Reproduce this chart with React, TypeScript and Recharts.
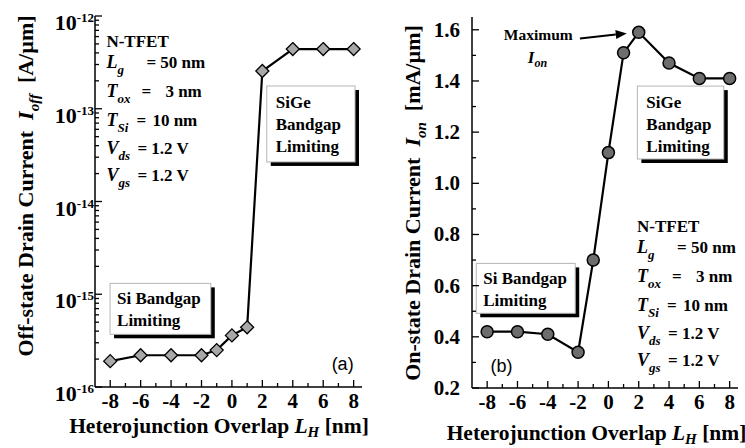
import React from 'react';
import { LineChart, Line, XAxis, YAxis, ReferenceArea, ReferenceDot, ReferenceLine } from 'recharts';

// heterojunction overlap L_H [nm]
const overlapNm = [-8, -6, -4, -2, -1, 0, 1, 2, 4, 6, 8];
// panel (a) off-state current [A/um]
const offCurrent = [1.9e-16, 2.2e-16, 2.2e-16, 2.2e-16, 2.5e-16, 3.6e-16, 4.4e-16, 2.55e-13, 4.4e-13, 4.4e-13, 4.4e-13];
// panel (b) on-state current [mA/um]
const onCurrent = [0.42, 0.42, 0.41, 0.34, 0.7, 1.12, 1.51, 1.59, 1.47, 1.41, 1.41];

const xTicks = [-8, -7, -6, -5, -4, -3, -2, -1, 0, 1, 2, 3, 4, 5, 6, 7, 8];
const xLabelled = [-8, -6, -4, -2, 0, 2, 4, 6, 8];
const offDecades = [1e-16, 1e-15, 1e-14, 1e-13, 1e-12];
const minorMantissa = [2, 3, 4, 5, 6, 7, 8, 9];
const onTicks = [0.2, 0.3, 0.4, 0.5, 0.6, 0.7, 0.8, 0.9, 1.0, 1.1, 1.2, 1.3, 1.4, 1.5, 1.6];
const onLabelled = [0.2, 0.4, 0.6, 0.8, 1.0, 1.2, 1.4, 1.6];

const offTicks = offDecades.flatMap((d, i) =>
  i < offDecades.length - 1 ? [d, ...minorMantissa.map((m) => m * d)] : [d]
);

const offData = overlapNm.map((x, i) => ({ x, y: offCurrent[i] }));
const onData = overlapNm.map((x, i) => ({ x, y: onCurrent[i] }));

const SERIF = "'Liberation Serif', 'Times New Roman', 'DejaVu Serif', serif";
const SANS = "'Liberation Sans', Arial, sans-serif";
const X_DOMAIN = [-9, 8.55];

const isXMajor = (v: number) => xLabelled.includes(v);
const isLogMajor = (v: number) => offDecades.some((d) => Math.abs(v / d - 1) < 1e-6);
const isOnMajor = (v: number) => onLabelled.some((l) => Math.abs(l - v) < 1e-6);

type Side = 'bottom' | 'top' | 'left' | 'right';

const tickFactory =
  (side: Side, isMajor: (v: number) => boolean, label?: (x: number, y: number, v: number) => React.ReactNode) =>
  (p: any) => {
    const v = p.payload.value;
    const len = isMajor(v) ? 7 : 4;
    const { x, y } = p;
    let x2 = x;
    let y2 = y;
    if (side === 'bottom') y2 = y - len;
    if (side === 'top') y2 = y + len;
    if (side === 'left') x2 = x + len;
    if (side === 'right') x2 = x - len;
    return (
      <g>
        <line x1={x} y1={y} x2={x2} y2={y2} stroke="#000" strokeWidth={1.3} />
        {label && isMajor(v) ? label(x, y, v) : null}
      </g>
    );
  };

const bottomLabel = (x: number, y: number, v: number) => (
  <text x={x} y={y + 21} textAnchor="middle" style={{ fontFamily: SERIF }} fontWeight="bold" fontSize={21} fill="#000">
    {v}
  </text>
);

const logLabel = (x: number, y: number, v: number) => (
  <text x={x - 1} y={y + 14} textAnchor="end" style={{ fontFamily: SERIF }} fontWeight="bold" fontSize={22} fill="#000">
    10
    <tspan dy={-8} fontSize={13}>
      {Math.round(Math.log10(v))}
    </tspan>
  </text>
);

const onLabel = (x: number, y: number, v: number) => (
  <text x={x - 12} y={y + 7} textAnchor="end" style={{ fontFamily: SERIF }} fontWeight="bold" fontSize={21} fill="#000">
    {v.toFixed(1)}
  </text>
);

const yTitle = (main: string, sub: string, unit: string, dx: number, dy: number) => (props: any) => {
  const vb = props.viewBox;
  const cx = vb.x + dx;
  const cy = vb.y + vb.height / 2 + dy;
  return (
    <text
      transform={`translate(${cx},${cy}) rotate(-90)`}
      textAnchor="middle"
      style={{ fontFamily: SERIF }}
      fontWeight="bold"
      fontSize={22}
      fill="#000"
    >
      {main + '\u00a0\u00a0'}
      <tspan fontStyle="italic">I</tspan>
      <tspan fontStyle="italic" fontSize={15} dy={6}>
        {sub}
      </tspan>
      <tspan dy={-6}>{'\u00a0\u00a0' + unit}</tspan>
    </text>
  );
};

const xTitle = (dx: number, dy: number) => (props: any) => {
  const vb = props.viewBox;
  return (
    <text
      x={vb.x + vb.width / 2 + dx}
      y={vb.y + dy}
      textAnchor="middle"
      style={{ fontFamily: SERIF }}
      fontWeight="bold"
      fontSize={21.5}
      fill="#000"
    >
      {'Heterojunction Overlap '}
      <tspan fontStyle="italic">L</tspan>
      <tspan fontStyle="italic" fontSize={15} dy={4}>
        H
      </tspan>
      <tspan dy={-4}>{'\u00a0[nm]'}</tspan>
    </text>
  );
};

const noteBox = (lines: string[], dx: number, baselines: number[]) => (p: any) => (
  <g>
    <rect x={p.x + 4} y={p.y + 4} width={p.width} height={p.height} fill="#000" />
    <rect x={p.x} y={p.y} width={p.width} height={p.height} fill="#fff" stroke="#b5b5b5" strokeWidth={1} />
    {lines.map((t, i) => (
      <text
        key={i}
        x={p.x + dx}
        y={p.y + baselines[i]}
        style={{ fontFamily: SERIF }}
        fontWeight="bold"
        fontSize={17}
        fill="#000"
      >
        {t}
      </text>
    ))}
  </g>
);

const paramRows = [
  { sym: 'L', sub: 'g', parts: [['= 50 nm', 40]] },
  { sym: 'T', sub: 'ox', parts: [['=', 35], ['3 nm', 59]] },
  { sym: 'T', sub: 'Si', parts: [['=', 30], ['10 nm', 46]] },
  { sym: 'V', sub: 'ds', parts: [['= 1.2 V', 31]] },
  { sym: 'V', sub: 'gs', parts: [['= 1.2 V', 31]] },
];
const paramBaselines = [21, 50, 79, 107, 134];

const paramBlock = (p: any) => {
  const { cx, cy } = p;
  const common = { style: { fontFamily: SERIF }, fontWeight: 'bold' as const, fill: '#000' };
  return (
    <g>
      <text x={cx} y={cy} fontSize={17} {...common}>
        N-TFET
      </text>
      {paramRows.map((r, i) => (
        <g key={i}>
          <text x={cx} y={cy + paramBaselines[i]} fontSize={18} {...common} fontStyle="italic">
            {r.sym}
            <tspan fontSize={13} dy={6}>
              {r.sub}
            </tspan>
          </text>
          {r.parts.map(([t, off], j) => (
            <text key={j} x={cx + (off as number)} y={cy + paramBaselines[i]} fontSize={17} {...common}>
              {t}
            </text>
          ))}
        </g>
      ))}
    </g>
  );
};

const panelTag = (t: string, anchor: 'start' | 'end') => (p: any) => (
  <text x={p.cx} y={p.cy} textAnchor={anchor} style={{ fontFamily: SANS }} fontSize={18} fill="#000">
    {t}
  </text>
);

const maxNote = (p: any) => (
  <g style={{ fontFamily: SERIF }} fontWeight="bold" fill="#000">
    <text x={p.cx} y={p.cy} fontSize={15.5}>
      Maximum
    </text>
    <text x={p.cx + 24} y={p.cy + 23} fontSize={17} fontStyle="italic">
      I
      <tspan fontSize={12} dy={4}>
        on
      </tspan>
    </text>
  </g>
);

const arrow = (p: any) => {
  const { x1, y1, x2, y2 } = p;
  const ang = Math.atan2(y2 - y1, x2 - x1);
  const L = 11;
  const W = 4.5;
  const bx = x2 - L * Math.cos(ang);
  const by = y2 - L * Math.sin(ang);
  const px = -Math.sin(ang) * W;
  const py = Math.cos(ang) * W;
  return (
    <g>
      <line x1={x1} y1={y1} x2={bx} y2={by} stroke="#000" strokeWidth={2} />
      <polygon points={`${x2},${y2} ${bx + px},${by + py} ${bx - px},${by - py}`} fill="#000" />
    </g>
  );
};

const diamond = (p: any) => {
  const { cx, cy, index } = p;
  if (cx == null || cy == null) return <g key={`d${index}`} />;
  const s = 6.5;
  return (
    <polygon
      key={`d${index}`}
      points={`${cx},${cy - s} ${cx + s},${cy} ${cx},${cy + s} ${cx - s},${cy}`}
      fill="#a8a8a8"
      stroke="#000"
      strokeWidth={1.3}
    />
  );
};

const axisLine = { stroke: '#000', strokeWidth: 1.5 };

function OffPanel() {
  return (
    <LineChart width={372} height={448} data={offData} margin={{ top: 16, right: 10, bottom: 0, left: 0 }}>
      <XAxis
        xAxisId="b"
        dataKey="x"
        type="number"
        domain={X_DOMAIN}
        allowDataOverflow
        ticks={xTicks}
        interval={0}
        height={61}
        tickSize={0}
        tickMargin={0}
        tickLine={false}
        axisLine={axisLine}
        tick={tickFactory('bottom', isXMajor, bottomLabel)}
        label={xTitle(-9.5, 46)}
      />
      <XAxis
        xAxisId="t"
        orientation="top"
        type="number"
        domain={X_DOMAIN}
        allowDataOverflow
        ticks={xTicks}
        interval={0}
        height={0}
        tickSize={0}
        tickMargin={0}
        tickLine={false}
        axisLine={axisLine}
        tick={tickFactory('top', isXMajor)}
      />
      <YAxis
        yAxisId="l"
        type="number"
        scale="log"
        domain={[1e-16, 1e-12]}
        allowDataOverflow
        ticks={offTicks}
        interval={0}
        width={95}
        tickSize={0}
        tickMargin={0}
        tickLine={false}
        axisLine={axisLine}
        tick={tickFactory('left', isLogMajor, logLabel)}
        label={yTitle('Off-state Drain Current', 'off', '[A/\u00b5m]', 33, -15.5)}
      />
      <YAxis
        yAxisId="r"
        orientation="right"
        type="number"
        scale="log"
        domain={[1e-16, 1e-12]}
        allowDataOverflow
        ticks={offTicks}
        interval={0}
        width={0}
        tickSize={0}
        tickMargin={0}
        tickLine={false}
        axisLine={axisLine}
        tick={tickFactory('right', isLogMajor)}
      />
      <ReferenceArea
        xAxisId="b"
        yAxisId="l"
        x1={2.29}
        x2={8.09}
        y1={2.67e-14}
        y2={1.76e-13}
        ifOverflow="visible"
        shape={noteBox(['SiGe', 'Bandgap', 'Limiting'], 9, [22, 44, 66])}
      />
      <ReferenceArea
        xAxisId="b"
        yAxisId="l"
        x1={-8.01}
        x2={-1.39}
        y1={3.7e-16}
        y2={1.31e-15}
        ifOverflow="visible"
        shape={noteBox(['Si Bandgap', 'Limiting'], 7, [21, 43])}
      />
      <ReferenceDot xAxisId="b" yAxisId="l" x={-8.25} y={4.63e-13} r={0} ifOverflow="visible" shape={paramBlock} />
      <ReferenceDot xAxisId="b" yAxisId="l" x={8} y={1.52e-16} r={0} ifOverflow="visible" shape={panelTag('(a)', 'end')} />
      <Line
        xAxisId="b"
        yAxisId="l"
        dataKey="y"
        type="linear"
        stroke="#000"
        strokeWidth={2.2}
        dot={diamond}
        isAnimationActive={false}
      />
    </LineChart>
  );
}

function OnPanel() {
  return (
    <LineChart width={373} height={448} data={onData} margin={{ top: 17, right: 7, bottom: 0, left: 0 }}>
      <XAxis
        xAxisId="b"
        dataKey="x"
        type="number"
        domain={X_DOMAIN}
        allowDataOverflow
        ticks={xTicks}
        interval={0}
        height={60}
        tickSize={0}
        tickMargin={0}
        tickLine={false}
        axisLine={axisLine}
        tick={tickFactory('bottom', isXMajor, bottomLabel)}
        label={xTitle(-8.5, 52)}
      />
      <XAxis
        xAxisId="t"
        orientation="top"
        type="number"
        domain={X_DOMAIN}
        allowDataOverflow
        ticks={xTicks}
        interval={0}
        height={0}
        tickSize={0}
        tickMargin={0}
        tickLine={false}
        axisLine={axisLine}
        tick={tickFactory('top', isXMajor)}
      />
      <YAxis
        yAxisId="l"
        type="number"
        domain={[0.2, 1.65]}
        allowDataOverflow
        ticks={onTicks}
        interval={0}
        width={100}
        tickSize={0}
        tickMargin={0}
        tickLine={false}
        axisLine={axisLine}
        tick={tickFactory('left', isOnMajor, onLabel)}
        label={yTitle('On-state Drain Current', 'on', '[mA/\u00b5m]', 48, 0.5)}
      />
      <YAxis
        yAxisId="r"
        orientation="right"
        type="number"
        domain={[0.2, 1.65]}
        allowDataOverflow
        ticks={onTicks}
        interval={0}
        width={0}
        tickSize={0}
        tickMargin={0}
        tickLine={false}
        axisLine={axisLine}
        tick={tickFactory('right', isOnMajor)}
      />
      <ReferenceArea
        xAxisId="b"
        yAxisId="l"
        x1={1.91}
        x2={7.61}
        y1={1.095}
        y2={1.38}
        ifOverflow="visible"
        shape={noteBox(['SiGe', 'Bandgap', 'Limiting'], 9, [22, 44, 66])}
      />
      <ReferenceArea
        xAxisId="b"
        yAxisId="l"
        x1={-8.72}
        x2={-2.19}
        y1={0.492}
        y2={0.687}
        ifOverflow="visible"
        shape={noteBox(['Si Bandgap', 'Limiting'], 7, [21, 43])}
      />
      <ReferenceDot xAxisId="b" yAxisId="l" x={1.89} y={0.81} r={0} ifOverflow="visible" shape={paramBlock} />
      <ReferenceDot xAxisId="b" yAxisId="l" x={-7.78} y={0.2625} r={0} ifOverflow="visible" shape={panelTag('(b)', 'start')} />
      <ReferenceDot xAxisId="b" yAxisId="l" x={-6.9} y={1.559} r={0} ifOverflow="visible" shape={maxNote} />
      <ReferenceLine
        xAxisId="b"
        yAxisId="l"
        segment={[
          { x: -1.88, y: 1.566 },
          { x: 1.21, y: 1.586 },
        ]}
        ifOverflow="visible"
        shape={arrow}
      />
      <Line
        xAxisId="b"
        yAxisId="l"
        dataKey="y"
        type="linear"
        stroke="#000"
        strokeWidth={2.2}
        dot={{ r: 6, fill: '#6d6d6d', stroke: '#000', strokeWidth: 1.5 }}
        isAnimationActive={false}
      />
    </LineChart>
  );
}

export default function App() {
  return (
    <div style={{ position: 'absolute', left: 0, top: 0, width: 745, height: 448, background: '#fff' }}>
      <div style={{ position: 'absolute', left: 0, top: 0 }}>
        <OffPanel />
      </div>
      <div style={{ position: 'absolute', left: 372, top: 0 }}>
        <OnPanel />
      </div>
    </div>
  );
}
